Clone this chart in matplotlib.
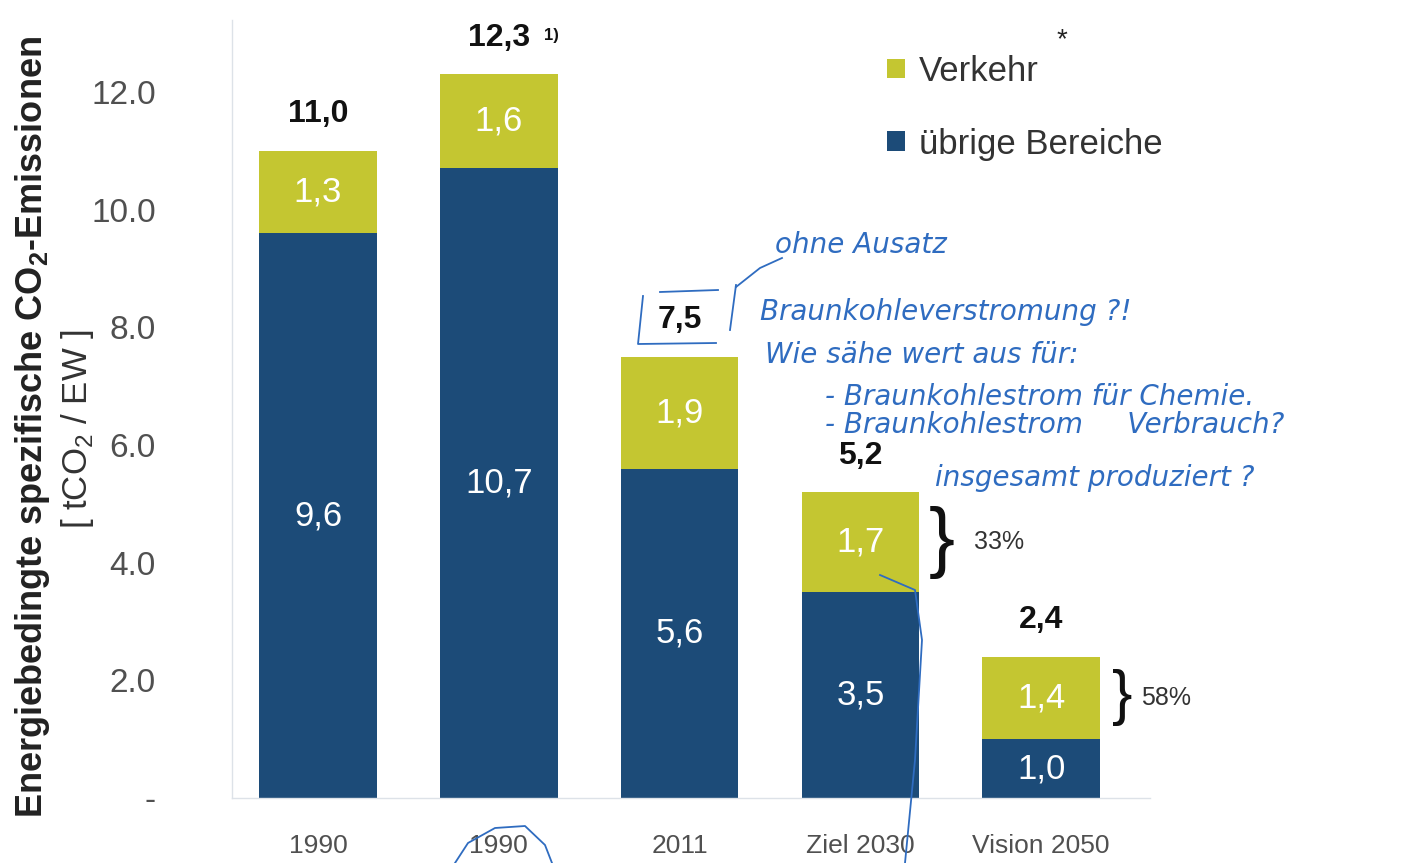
import matplotlib
matplotlib.use("Agg")
import matplotlib.pyplot as plt

plt.rcParams['font.family'] = ['Liberation Sans', 'DejaVu Sans']
plt.rcParams['mathtext.fontset'] = 'custom'
plt.rcParams['mathtext.rm'] = 'Liberation Sans'
plt.rcParams['mathtext.bf'] = 'Liberation Sans:bold'

categories = ["1990", "1990", "2011", "Ziel 2030", "Vision 2050"]
uebrige = [9.6, 10.7, 5.6, 3.5, 1.0]
verkehr = [1.3, 1.6, 1.9, 1.7, 1.4]
totals = [11.0, 12.3, 7.5, 5.2, 2.4]
total_labels = ["11,0", "12,3", "7,5", "5,2", "2,4"]
shares = {3: "33%", 4: "58%"}
yticks = [0, 2, 4, 6, 8, 10, 12]
ytick_labels = ["-", "2.0", "4.0", "6.0", "8.0", "10.0", "12.0"]

blue = '#1c4b78'
green = '#c4c631'
ink = '#2f6cc0'

W, H = 1409, 863


def px(x, y):
    # pixel position -> figure fraction (used for the handwritten marks only)
    return x / W, 1 - y / H


fig = plt.figure(figsize=(14.09, 8.63), dpi=100)
ax = fig.add_axes([0.1647, 0.0753, 0.6513, 0.902])

x = list(range(len(categories)))
top_part = [t - b for t, b in zip(totals, uebrige)]
b1 = ax.bar(x, uebrige, 0.65, color=blue, label="übrige Bereiche")
b2 = ax.bar(x, top_part, 0.65, bottom=uebrige, color=green, label="Verkehr")

for i in x:
    ax.text(i, uebrige[i] / 2, str(uebrige[i]).replace('.', ','), ha='center', va='center',
            color='white', fontsize=25)
    ax.text(i, uebrige[i] + top_part[i] / 2, str(verkehr[i]).replace('.', ','), ha='center',
            va='center', color='white', fontsize=25)
    ax.text(i, totals[i] + 0.62, total_labels[i], ha='center', va='center',
            color='#111111', fontsize=23, fontweight='bold')
ax.text(1 + 0.25, totals[1] + 0.66, "1)", ha='left', va='center', fontsize=12,
        fontweight='bold', color='#111111')

ax.set_xlim(-0.475, 4.6)
ax.set_ylim(0, 13.23)
ax.set_yticks(yticks)
ax.set_yticklabels(ytick_labels)
ax.set_xticks(x)
ax.set_xticklabels(categories)
ax.tick_params(axis='y', length=0, pad=55, labelsize=24, labelcolor='#505050')
ax.tick_params(axis='x', length=0, pad=26, labelsize=19, labelcolor='#505050')
for s in ['top', 'right']:
    ax.spines[s].set_visible(False)
for s in ['left', 'bottom']:
    ax.spines[s].set_color('#dde2e8')
    ax.spines[s].set_linewidth(1)

leg = ax.legend(handles=[b2, b1], loc='upper left', bbox_to_anchor=(0.68, 0.995),
                frameon=False, fontsize=25, handlelength=0.5, handleheight=0.5,
                handletextpad=0.4, labelspacing=1.15, labelcolor='#333333')
fig.text(*px(1062, 40), "*", fontsize=20, color='#222222', ha='center', va='center')

# brackets and shares
for i, sh in shares.items():
    mid = uebrige[i] + top_part[i] / 2
    size = 56 if i == 3 else 44
    ax.text(i + 0.45, mid, "}", fontsize=size, ha='center', va='center', color='#111111')
    ax.text(i + 0.63 if i == 3 else i + 0.55, mid, sh, fontsize=18, ha='left', va='center',
            color='#333333')

# axis titles
fig.text(0.023, 0.505, "Energiebedingte spezifische CO$_\\mathbf{2}$-Emissionen", rotation=90,
         ha='center', va='center', fontsize=26, fontweight='bold', color='#222222')
fig.text(0.055, 0.503, "[ tCO$_2$ / EW ]", rotation=90, ha='center', va='center',
         fontsize=25, color='#333333')

# handwritten notes
notes = [
    (775, 245, "ohne Ausatz"),
    (760, 312, "Braunkohleverstromung ?!"),
    (765, 355, "Wie sähe wert aus für:"),
    (825, 397, "- Braunkohlestrom für Chemie."),
    (825, 425, "- Braunkohlestrom     Verbrauch?"),
    (935, 478, "insgesamt produziert ?"),
]
for nx, ny, t in notes:
    fig.text(*px(nx, ny), t, fontsize=20, color=ink, style='italic', ha='left', va='center',
             family=['DejaVu Sans'])

strokes = [
    [(660, 292), (718, 290)],
    [(643, 296), (638, 344), (716, 343)],
    [(736, 285), (730, 330)],
    [(736, 287), (760, 268), (782, 258)],
    [(880, 575), (915, 590), (922, 640), (915, 760), (905, 863)],
    [(455, 863), (468, 843), (495, 828), (525, 826), (545, 845), (552, 863)],
]
for pts in strokes:
    xs = [p[0] / W for p in pts]
    ys = [1 - p[1] / H for p in pts]
    fig.add_artist(plt.Line2D(xs, ys, color=ink, lw=1.3))

fig.savefig("out.png", dpi=100)
